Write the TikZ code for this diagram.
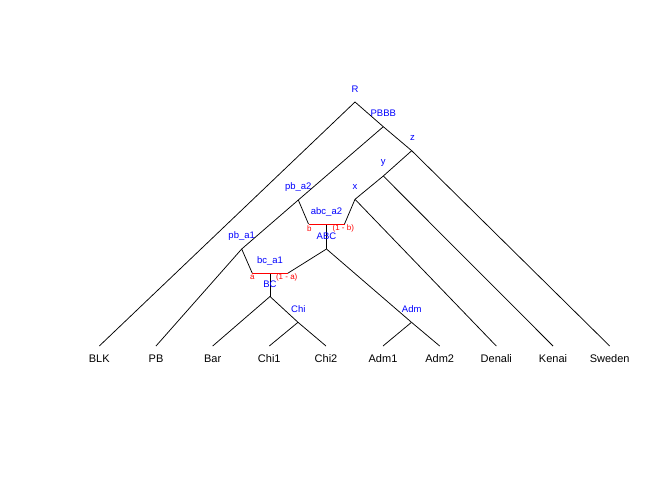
\documentclass[tikz,border=0pt]{standalone}
\usepackage{fontspec}
\setmainfont{Liberation Sans}
\definecolor{rblue}{RGB}{0,0,255}
\definecolor{rred}{RGB}{255,0,0}
\begin{document}
\begin{tikzpicture}[x=1pt,y=-1pt,
  edge/.style={draw=black,line width=0.75pt},
  admbar/.style={draw=rred,line width=0.9pt},
  leaf/.style={font=\fontsize{11}{13}\selectfont,inner sep=0pt,anchor=center},
  inner/.style={font=\fontsize{9.5}{11}\selectfont,text=rblue,inner sep=0pt,anchor=center},
  prop/.style={font=\fontsize{8}{9.5}\selectfont,text=rred,inner sep=0pt,anchor=center}]
\useasboundingbox (0,0) rectangle (672,480);
% inner nodes
\coordinate (R) at (355,102);
\coordinate (PBBB) at (383.3,126.7);
\coordinate (z) at (411.7,150.7);
\coordinate (y) at (383.3,176);
\coordinate (x) at (355,199.3);
\coordinate (pba2) at (298.3,200);
\coordinate (pba1) at (241.7,249);
\coordinate (abcL) at (308.5,224);
\coordinate (abcR) at (344.5,224);
\coordinate (abcM) at (326.5,224);
\coordinate (ABC) at (326.5,249);
\coordinate (bcL) at (252.3,273.3);
\coordinate (bcR) at (287.7,273.3);
\coordinate (bcM) at (270,273.3);
\coordinate (BC) at (270,296.5);
\coordinate (Chi) at (298,322.3);
\coordinate (Adm) at (411.5,322.3);
% leaves
\coordinate (lBLK) at (99.3,346);
\coordinate (lPB) at (156,346);
\coordinate (lBar) at (212.7,346);
\coordinate (lChi1) at (269.3,346);
\coordinate (lChi2) at (326,346);
\coordinate (lAdm1) at (383,346);
\coordinate (lAdm2) at (439.7,346);
\coordinate (lDenali) at (496.3,346);
\coordinate (lKenai) at (553,346);
\coordinate (lSweden) at (609.7,346);
% edges
\draw[edge] (R) -- (lBLK);
\draw[edge] (R) -- (PBBB);
\draw[edge] (PBBB) -- (pba2) -- (pba1) -- (lPB);
\draw[edge] (pba2) -- (abcL);
\draw[edge] (pba1) -- (bcL);
\draw[edge] (PBBB) -- (z);
\draw[edge] (z) -- (lSweden);
\draw[edge] (z) -- (y);
\draw[edge] (y) -- (lKenai);
\draw[edge] (y) -- (x);
\draw[edge] (x) -- (lDenali);
\draw[edge] (x) -- (abcR);
\draw[edge] (abcM) -- (ABC);
\draw[edge] (ABC) -- (bcR);
\draw[edge] (ABC) -- (Adm);
\draw[edge] (Adm) -- (lAdm1);
\draw[edge] (Adm) -- (lAdm2);
\draw[edge] (bcM) -- (BC);
\draw[edge] (BC) -- (lBar);
\draw[edge] (BC) -- (Chi);
\draw[edge] (Chi) -- (lChi1);
\draw[edge] (Chi) -- (lChi2);
\draw[admbar] (abcL) -- (abcR);
\draw[admbar] (bcL) -- (bcR);
% leaf labels
\node[leaf] (tBLK) at (99.3,359) {BLK};
\node[leaf] (tPB) at (156,359) {PB};
\node[leaf] (tBar) at (212.7,359) {Bar};
\node[leaf] (tChi1) at (269.3,359) {Chi1};
\node[leaf] (tChi2) at (326,359) {Chi2};
\node[leaf] (tAdm1) at (383,359) {Adm1};
\node[leaf] (tAdm2) at (439.7,359) {Adm2};
\node[leaf] (tDenali) at (496.3,359) {Denali};
\node[leaf] (tKenai) at (553,359) {Kenai};
\node[leaf] (tSweden) at (609.7,359) {Sweden};
% inner labels
\node[inner] (nR) at (355,89.5) {R};
\node[inner] (nPBBB) at (383.3,113.7) {PBBB};
\node[inner] (nz) at (412.5,138) {z};
\node[inner] (ny) at (383.3,163) {y};
\node[inner] (nx) at (355,186.5) {x};
\node[inner] (npba2) at (298.3,187.5) {pb\_a2};
\node[inner] (nabc) at (326.5,211.5) {abc\_a2};
\node[inner] (nABC) at (326.5,236.7) {ABC};
\node[inner] (npba1) at (241.7,236.5) {pb\_a1};
\node[inner] (nbc) at (270,260.7) {bc\_a1};
\node[inner] (nBC) at (270,284.5) {BC};
\node[inner] (nChi) at (298.3,309.5) {Chi};
\node[inner] (nAdm) at (411.7,309.5) {Adm};
% proportions
\node[prop] (pb) at (309.3,228.8) {b};
\node[prop] (p1b) at (343.3,228.8) {(1 - b)};
\node[prop] (pa) at (252.3,277.8) {a};
\node[prop] (p1a) at (286.7,277.8) {(1 - a)};
\end{tikzpicture}
\end{document}
